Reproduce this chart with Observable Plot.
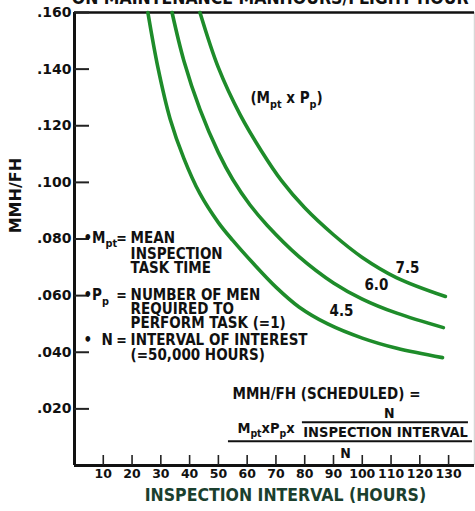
<!DOCTYPE html>
<html><head><meta charset="utf-8">
<script src="https://cdn.jsdelivr.net/npm/d3@7"></script>
<script src="https://cdn.jsdelivr.net/npm/@observablehq/plot@0.6"></script>
<style>body{margin:0;background:#fff} #chart svg{display:block;background:#fff}</style>
</head><body><div id="chart"></div><script>
// ---- data ----
const seriesNames = ["4.5", "6.0", "7.5"];
const curve45X = [25.5, 29, 33.2, 38, 43.6, 50, 55, 62, 70, 78, 88, 100, 112, 127.9];
const curve45Y = [0.160, 0.1405, 0.1225, 0.1085, 0.0960, 0.0858, 0.0795, 0.0715, 0.0630, 0.0560, 0.0500, 0.0450, 0.0414, 0.0381];
const curve60X = [33.9, 38, 43.6, 50, 55, 61, 67, 78, 90, 100, 112, 128.2];
const curve60Y = [0.160, 0.1430, 0.1258, 0.1105, 0.1010, 0.0920, 0.0848, 0.0738, 0.0645, 0.0588, 0.0538, 0.0487];
const curve75X = [43.6, 50, 57.5, 65, 72, 80, 90, 100, 112, 128.9];
const curve75Y = [0.160, 0.1405, 0.1240, 0.1110, 0.1005, 0.0910, 0.0815, 0.0735, 0.0663, 0.0597];

const xTicks = [10, 20, 30, 40, 50, 60, 70, 80, 90, 100, 110, 120, 130];
const yTicks = [0.02, 0.04, 0.06, 0.08, 0.10, 0.12, 0.14, 0.16];
const yTickLabels = [".020", ".040", ".060", ".080", ".100", ".120", ".140", ".160"];

const titleText = "ON MAINTENANCE MANHOURS/FLIGHT HOUR";
const xTitle = "INSPECTION INTERVAL (HOURS)";
const yTitle = "MMH/FH";
const groupLabel = "(M_{pt} x P_{p})";

const legendSymbols = ["•M_{pt}", "•P_{p}", "•  N"];
const legendSymbolY = [0.0802, 0.0600, 0.0441];
const legendLines = ["MEAN", "INSPECTION", "TASK TIME", "NUMBER OF MEN", "REQUIRED TO", "PERFORM TASK (=1)", "INTERVAL OF INTEREST", "(=50,000 HOURS)"];
const legendLineY = [0.0802, 0.0747, 0.0697, 0.0600, 0.0551, 0.0503, 0.0441, 0.0389];

const formulaHead = "MMH/FH (SCHEDULED) =";
const formulaLeft = "M_{pt}xP_{p}x";
const formulaInner = "INSPECTION INTERVAL";
const formulaN = "N";

// ---- build table ----
const curves = [];
[[curve45X, curve45Y], [curve60X, curve60Y], [curve75X, curve75Y]].forEach(([xs, ys], k) => {
  xs.forEach((x, i) => curves.push({series: seriesNames[k], interval: x, mmh: ys[i]}));
});
const labelPos = [
  {t: "4.5", x: 92.8, y: 0.0544},
  {t: "6.0", x: 104.9, y: 0.0636},
  {t: "7.5", x: 115.7, y: 0.0696}
];

const W = 475, H = 511, mL = 74, mR = 1, mT = 12, mB = 46;
const innerW = W - mL - mR, innerH = H - mT - mB;
const BOLD = "bold";
const COND = "'DejaVu Sans Condensed', 'DejaVu Sans', sans-serif";
const DJ = "'DejaVu Sans', sans-serif";
const green = "#1e8c2a";
const ink = "#111";

const plot = Plot.plot({
  width: W, height: H,
  marginLeft: mL, marginRight: mR, marginTop: mT, marginBottom: mB,
  x: {domain: [0, 139], axis: null},
  y: {domain: [0, 0.16], axis: null},
  style: {background: "#fff", color: ink},
  marks: [
    // frame lines
    Plot.ruleX([139], {stroke: "#d8d8d8", strokeWidth: 1.5}),
    Plot.ruleY([0.16], {stroke: ink, strokeWidth: 2.5}),
    Plot.ruleX([0], {stroke: ink, strokeWidth: 3}),
    Plot.ruleY([0], {stroke: ink, strokeWidth: 3}),
    // ticks (inward)
    Plot.tickX(xTicks, {x: d => d, insetTop: innerH - 10, stroke: "#222", strokeWidth: 1.6}),
    Plot.tickY(yTicks, {y: d => d, insetRight: innerW - 15, stroke: "#222", strokeWidth: 2}),
    // tick labels
    Plot.text(xTicks, {x: d => d, frameAnchor: "bottom", dy: 12, text: d => String(d), fontSize: 12.5, fontWeight: BOLD, fontFamily: DJ, fill: ink}),
    Plot.text(yTicks, {y: d => d, frameAnchor: "left", dx: -3, textAnchor: "end", text: (d, i) => yTickLabels[i], fontSize: 14, fontWeight: BOLD, fontFamily: DJ, fill: ink}),
    // axis titles
    Plot.text([xTitle], {x: 73.3, frameAnchor: "bottom", dy: 35, text: d => d, fontSize: 17.5, fontWeight: BOLD, fontFamily: COND, fill: "#1b3f2e"}),
    Plot.text([yTitle], {y: 0.082, frameAnchor: "left", dx: -59, rotate: -90, text: d => d, fontSize: 16, fontWeight: BOLD, fontFamily: DJ, fill: ink}),
    Plot.text([titleText], {x: 68, frameAnchor: "top", dy: -9, lineAnchor: "bottom", text: d => d, fontSize: 17.5, fontWeight: BOLD, fontFamily: COND, fill: ink}),
    // curves
    Plot.line(curves, {x: "interval", y: "mmh", z: "series", curve: "catmull-rom", stroke: green, strokeWidth: 3.6, strokeLinecap: "round"}),
    Plot.text(labelPos, {x: "x", y: "y", text: "t", fontSize: 15, fontWeight: BOLD, fontFamily: COND, fill: ink}),
    Plot.text([groupLabel], {x: 73.7, y: 0.1296, text: d => d, fontSize: 15, fontWeight: BOLD, fontFamily: COND, fill: ink}),
    // legend
    Plot.text(legendSymbols, {x: 3.1, y: (d, i) => legendSymbolY[i], text: d => d, textAnchor: "start", fontSize: 15, fontWeight: BOLD, fontFamily: COND, fill: ink}),
    Plot.text(legendSymbols, {x: 16.3, y: (d, i) => legendSymbolY[i], text: () => "=", fontSize: 14, fontWeight: BOLD, fontFamily: COND, fill: ink}),
    Plot.text(legendLines, {x: 19.5, y: (d, i) => legendLineY[i], text: d => d, textAnchor: "start", fontSize: 15, fontWeight: BOLD, fontFamily: COND, fill: ink}),
    // formula
    Plot.text([formulaHead], {x: 54.9, y: 0.0251, text: d => d, textAnchor: "start", fontSize: 15, fontWeight: BOLD, fontFamily: COND, fill: ink}),
    Plot.text([formulaN], {x: 109.4, y: 0.0184, text: d => d, fontSize: 14, fontWeight: BOLD, fontFamily: COND, fill: ink}),
    Plot.text([formulaLeft], {x: 56.6, y: 0.0131, text: d => d, textAnchor: "start", fontSize: 14.5, fontWeight: BOLD, fontFamily: COND, fill: ink}),
    Plot.text([formulaInner], {x: 108.1, y: 0.0118, text: d => d, fontSize: 14.5, fontWeight: BOLD, fontFamily: COND, fill: ink}),
    Plot.ruleY([0.0153], {x1: 79.2, x2: 136.9, stroke: ink, strokeWidth: 2}),
    Plot.ruleY([0.0086], {x1: 53.5, x2: 138.3, stroke: ink, strokeWidth: 2}),
    Plot.text([formulaN], {x: 94.2, y: 0.0042, text: d => d, fontSize: 14, fontWeight: BOLD, fontFamily: COND, fill: ink})
  ]
});
document.getElementById("chart").appendChild(plot);

// turn "_{..}" markup into subscript tspans
(function richify(svg) {
  const NS = "http://www.w3.org/2000/svg";
  svg.querySelectorAll("text").forEach(el => {
    const s = el.textContent;
    if (!s.includes("_{")) return;
    const fs = parseFloat(getComputedStyle(el).fontSize) || 14;
    const shift = fs * 0.28;
    while (el.firstChild) el.removeChild(el.firstChild);
    const re = /_\{([^}]*)\}/g;
    let last = 0, m, down = false;
    const add = (txt, sub) => {
      const t = document.createElementNS(NS, "tspan");
      t.textContent = txt;
      if (sub) { t.setAttribute("font-size", (fs * 0.72) + "px"); t.setAttribute("dy", shift + "px"); }
      else if (down) { t.setAttribute("dy", (-shift) + "px"); }
      el.appendChild(t);
    };
    while ((m = re.exec(s))) {
      if (m.index > last) { add(s.slice(last, m.index), false); down = false; }
      add(m[1], true); down = true; last = re.lastIndex;
    }
    if (last < s.length) add(s.slice(last), false);
  });
})(plot);
</script></body></html>
